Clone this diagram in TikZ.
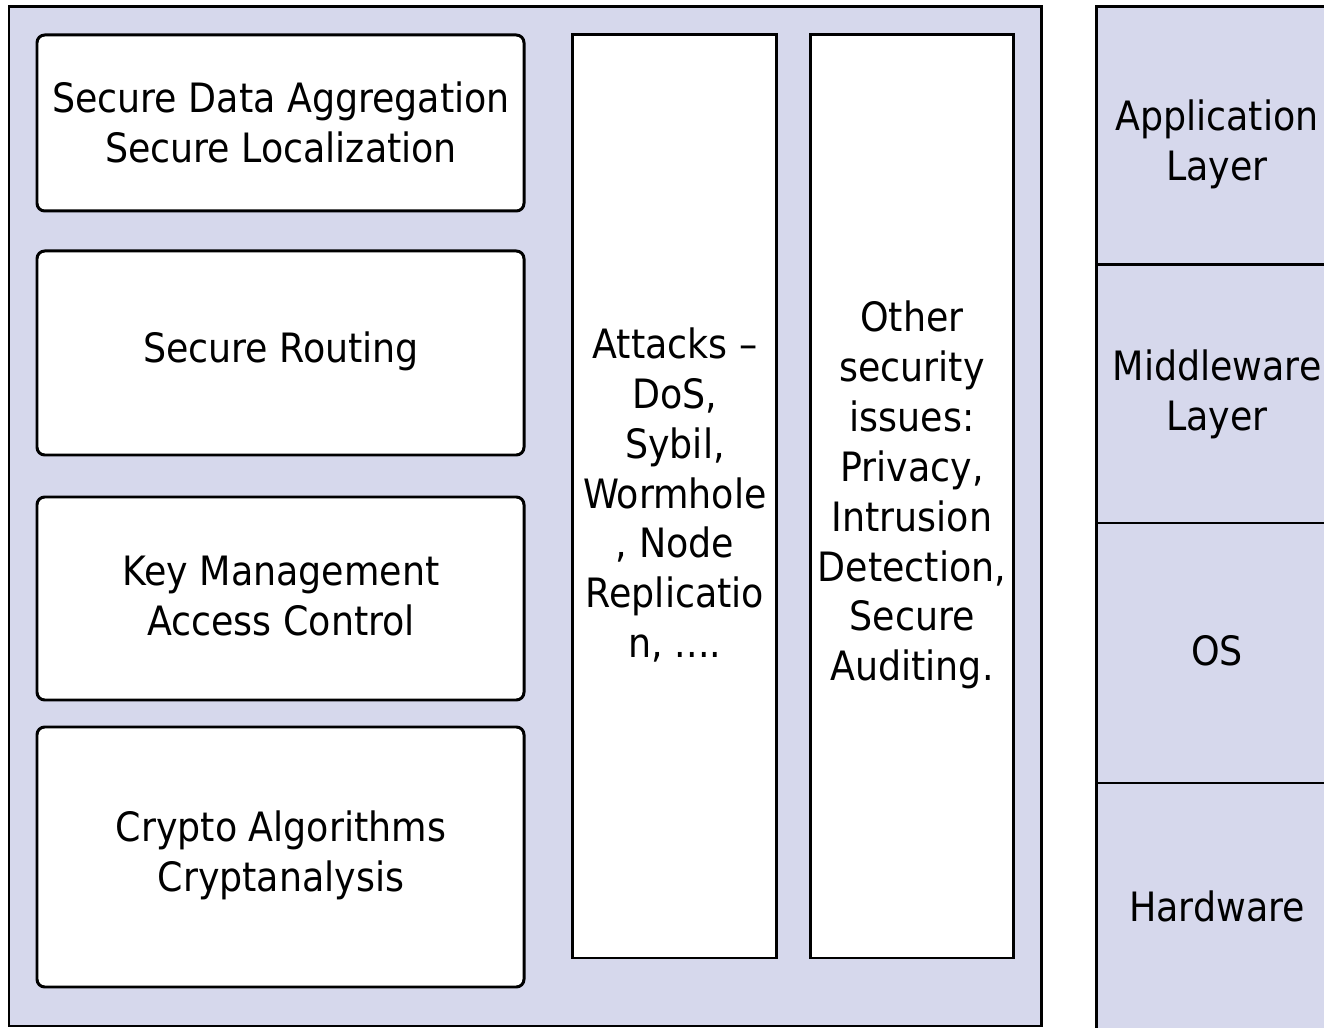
\documentclass[tikz,border=0pt]{standalone}
\usepackage{fontspec}
\setmainfont{DejaVu Sans Condensed}
\definecolor{stip}{RGB}{214,216,236}
\tikzset{
  px/.style={x=0.01cm,y=-0.01cm},
  edge/.style={draw=black,line width=0.85pt},
  rbox/.style={edge,fill=white,rounded corners=2.2pt},
  lbl/.style={align=center,font=\fontsize{11.5}{14.2}\selectfont,inner sep=0pt},
}
\begin{document}
\begin{tikzpicture}[px]
\useasboundingbox (0,0) rectangle (1324,1028);
% left panel
\draw[edge,fill=stip] (9,7) rectangle (1041,1026);
% rounded boxes
\draw[rbox] (37,35) rectangle (524,211);
\node[lbl] (b1) at (281,122) {Secure Data Aggregation\\Secure Localization};
\draw[rbox] (37,251) rectangle (524,455);
\node[lbl] (b2) at (281,351) {Secure Routing};
\draw[rbox] (37,497) rectangle (524,700);
\node[lbl] (b3) at (281,596) {Key Management\\Access Control};
\draw[rbox] (37,727) rectangle (524,987);
\node[lbl] (b4) at (281,855) {Crypto Algorithms\\Cryptanalysis};
% tall columns
\draw[edge,fill=white] (572,35) rectangle (776,958);
\node[lbl] (c1) at (675,495) {Attacks --\\DoS,\\Sybil,\\Wormhole\\, Node\\Replicatio\\n, ....};
\draw[edge,fill=white] (810,35) rectangle (1013,958);
\node[lbl] (c2) at (912,495) {Other\\security\\issues:\\Privacy,\\Intrusion\\Detection,\\Secure\\Auditing.};
% right layer stack
\fill[stip] (1096,7) rectangle (1324,1028);
\draw[edge] (1096,1028) -- (1096,7) -- (1324,7);
\draw[edge] (1096,265) -- (1324,265);
\draw[edge] (1096,523) -- (1324,523);
\draw[edge] (1096,783) -- (1324,783);
\node[lbl] (l1) at (1217,144) {Application\\Layer};
\node[lbl] (l2) at (1217,394) {Middleware\\Layer};
\node[lbl] (l3) at (1217,651) {OS};
\node[lbl] (l4) at (1217,906) {Hardware};
\end{tikzpicture}
\end{document}
